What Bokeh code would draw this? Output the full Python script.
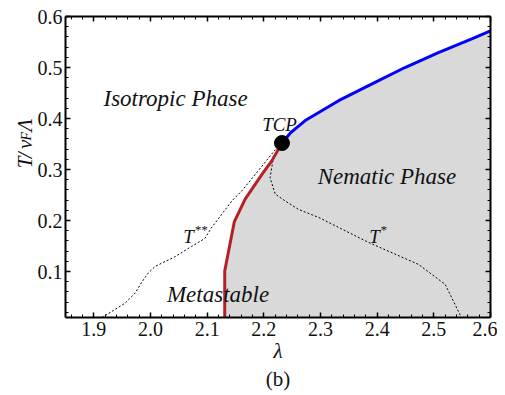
import numpy as np
from bokeh.plotting import figure
from bokeh.models import Range1d, LinearAxis, FixedTicker, Label
from bokeh.layouts import row
from bokeh.core.properties import value
from bokeh.embed import file_html
from bokeh.resources import INLINE

# ---- data ----
red_x = [2.131, 2.131, 2.148, 2.167, 2.197, 2.214, 2.232]
red_y = [0.010, 0.101, 0.198, 0.242, 0.291, 0.317, 0.352]

blue_x = [2.232, 2.248, 2.273, 2.332, 2.391, 2.449, 2.508, 2.567, 2.600]
blue_y = [0.352, 0.373, 0.396, 0.435, 0.468, 0.500, 0.529, 0.556, 0.572]

tss_x = [1.914, 1.932, 1.955, 1.973, 1.985, 1.996, 2.008, 2.043, 2.072, 2.096, 2.107,
         2.144, 2.161, 2.197, 2.218, 2.232]
tss_y = [0.010, 0.022, 0.038, 0.058, 0.080, 0.097, 0.110, 0.129, 0.149, 0.165, 0.185,
         0.239, 0.258, 0.307, 0.336, 0.352]

ts_x = [2.232, 2.217, 2.211, 2.220, 2.237, 2.261, 2.297, 2.385, 2.473, 2.520, 2.546, 2.548]
ts_y = [0.352, 0.324, 0.284, 0.252, 0.239, 0.222, 0.206, 0.157, 0.114, 0.075, 0.016, 0.010]

tcp_x = [2.232]
tcp_y = [0.352]

x_ticks = [1.9, 2.0, 2.1, 2.2, 2.3, 2.4, 2.5, 2.6]
x_tick_labels = ["1.9", "2.0", "2.1", "2.2", "2.3", "2.4", "2.5", "2.6"]
y_ticks = [0.1, 0.2, 0.3, 0.4, 0.5, 0.6]
y_tick_labels = ["0.1", "0.2", "0.3", "0.4", "0.5", "0.6"]

SERIF = "Liberation Serif"
INK = "#111111"

PH = 393  # figure height

p = figure(width=463, height=PH, output_backend="svg", toolbar_location=None,
           x_range=Range1d(1.85, 2.6), y_range=Range1d(0.01, 0.6),
           min_border_left=30, min_border_right=7, min_border_top=16, min_border_bottom=PH - 317,
           x_axis_location=None, y_axis_location=None)
p.grid.visible = False
p.outline_line_color = None
p.background_fill_color = "white"
p.border_fill_color = "white"

# shaded nematic region
fill_x = red_x + blue_x[1:] + [blue_x[-1]]
fill_y = red_y + blue_y[1:] + [red_y[0]]
p.patch(fill_x, fill_y, fill_color="#d9d9d9", line_color=None)

p.line(tss_x, tss_y, line_color="black", line_width=1, line_dash="2 2")
p.line(ts_x, ts_y, line_color="black", line_width=1, line_dash="2 2")
p.line(red_x, red_y, line_color="#b52025", line_width=3)
p.line(blue_x, blue_y, line_color="#0000ff", line_width=3)
p.scatter(tcp_x, tcp_y, size=15, fill_color="black", line_color="black")

xminor = list(np.round(np.arange(1.86, 2.6, 0.02), 3))
yminor = list(np.round(np.arange(0.02, 0.6, 0.02), 3))


def make_axis(ticks, minor, labels, show_labels):
    ax = LinearAxis(ticker=FixedTicker(ticks=ticks, minor_ticks=minor))
    if show_labels:
        ax.major_label_overrides = {t: l for t, l in zip(ticks, labels)}
        ax.major_label_text_font_size = "20px"
        ax.major_label_standoff = 4
    else:
        ax.major_label_overrides = {t: "" for t in ticks}
        ax.major_label_text_font_size = "1px"
        ax.major_label_standoff = 0
    ax.axis_line_width = 2
    ax.axis_line_color = "black"
    ax.major_tick_in = 5
    ax.major_tick_out = 0
    ax.minor_tick_in = 3
    ax.minor_tick_out = 0
    ax.major_tick_line_width = 1.5
    ax.minor_tick_line_width = 1
    ax.major_label_text_font = SERIF
    ax.major_label_text_color = INK
    return ax


xb = make_axis(x_ticks, xminor, x_tick_labels, True)
xb.axis_label = "λ"
xb.axis_label_text_font = SERIF
xb.axis_label_text_font_style = "italic"
xb.axis_label_text_font_size = "21px"
xb.axis_label_text_color = INK
xb.axis_label_standoff = 0
p.add_layout(xb, "below")

# second, invisible axis below that only carries the panel tag "(b)"
tag = LinearAxis(ticker=FixedTicker(ticks=[]), axis_line_color=None,
                 major_tick_line_color=None, minor_tick_line_color=None,
                 major_label_text_font_size="1px", major_label_standoff=0,
                 major_tick_in=0, major_tick_out=0, minor_tick_in=0, minor_tick_out=0)
tag.axis_label = "(b)"
tag.axis_label_text_font = SERIF
tag.axis_label_text_font_style = "normal"
tag.axis_label_text_font_size = "21px"
tag.axis_label_text_color = INK
tag.axis_label_standoff = 1
p.add_layout(tag, "below")

p.add_layout(make_axis(x_ticks, xminor, x_tick_labels, False), "above")
yl = make_axis(y_ticks, yminor, y_tick_labels, True)
yl.major_label_standoff = 3
p.add_layout(yl, "left")
p.add_layout(make_axis(y_ticks, yminor, y_tick_labels, False), "right")


def lab(x, y, text, size, style="italic"):
    p.add_layout(Label(x=x, y=y, text=text, text_font=SERIF, text_font_style=style,
                       text_font_size=size, text_baseline="alphabetic", text_align="left",
                       text_color=INK))


lab(1.917, 0.439, "Isotropic Phase", "23px")
lab(2.197, 0.389, "TCP", "19px")
lab(2.295, 0.286, "Nematic Phase", "23px")
lab(2.029, 0.056, "Metastable", "23px")
lab(2.058, 0.168, "T", "19px")
lab(2.077, 0.182, "**", "13px")
lab(2.386, 0.168, "T", "19px")
lab(2.405, 0.182, "*", "13px")

# ---- left strip holding the rotated y-axis label  T/v_F Λ ----
L = figure(width=34, height=PH, output_backend="svg", toolbar_location=None,
           x_range=Range1d(0, 34), y_range=Range1d(PH, 0),
           min_border=0, x_axis_location=None, y_axis_location=None)
L.grid.visible = False
L.outline_line_color = None
L.border_fill_color = "white"
L.background_fill_color = "white"
ylab_text = ["T", "/", "v", "F", "Λ"]
ylab_pos = [198, 185, 173, 162, 150]
ylab_base = [24.5, 24.5, 24.5, 25.5, 24.5]
ylab_size = ["21px", "21px", "21px", "14px", "21px"]
for t, yy, xx, sz in zip(ylab_text, ylab_pos, ylab_base, ylab_size):
    L.text(x=[xx], y=[yy], text=[t], angle=np.pi / 2, text_font=value(SERIF),
           text_font_style="italic", text_font_size=sz, text_align="left",
           text_baseline="alphabetic", text_color=INK)

layout = row(L, p)
open("out.html", "w").write(file_html(layout, INLINE))
